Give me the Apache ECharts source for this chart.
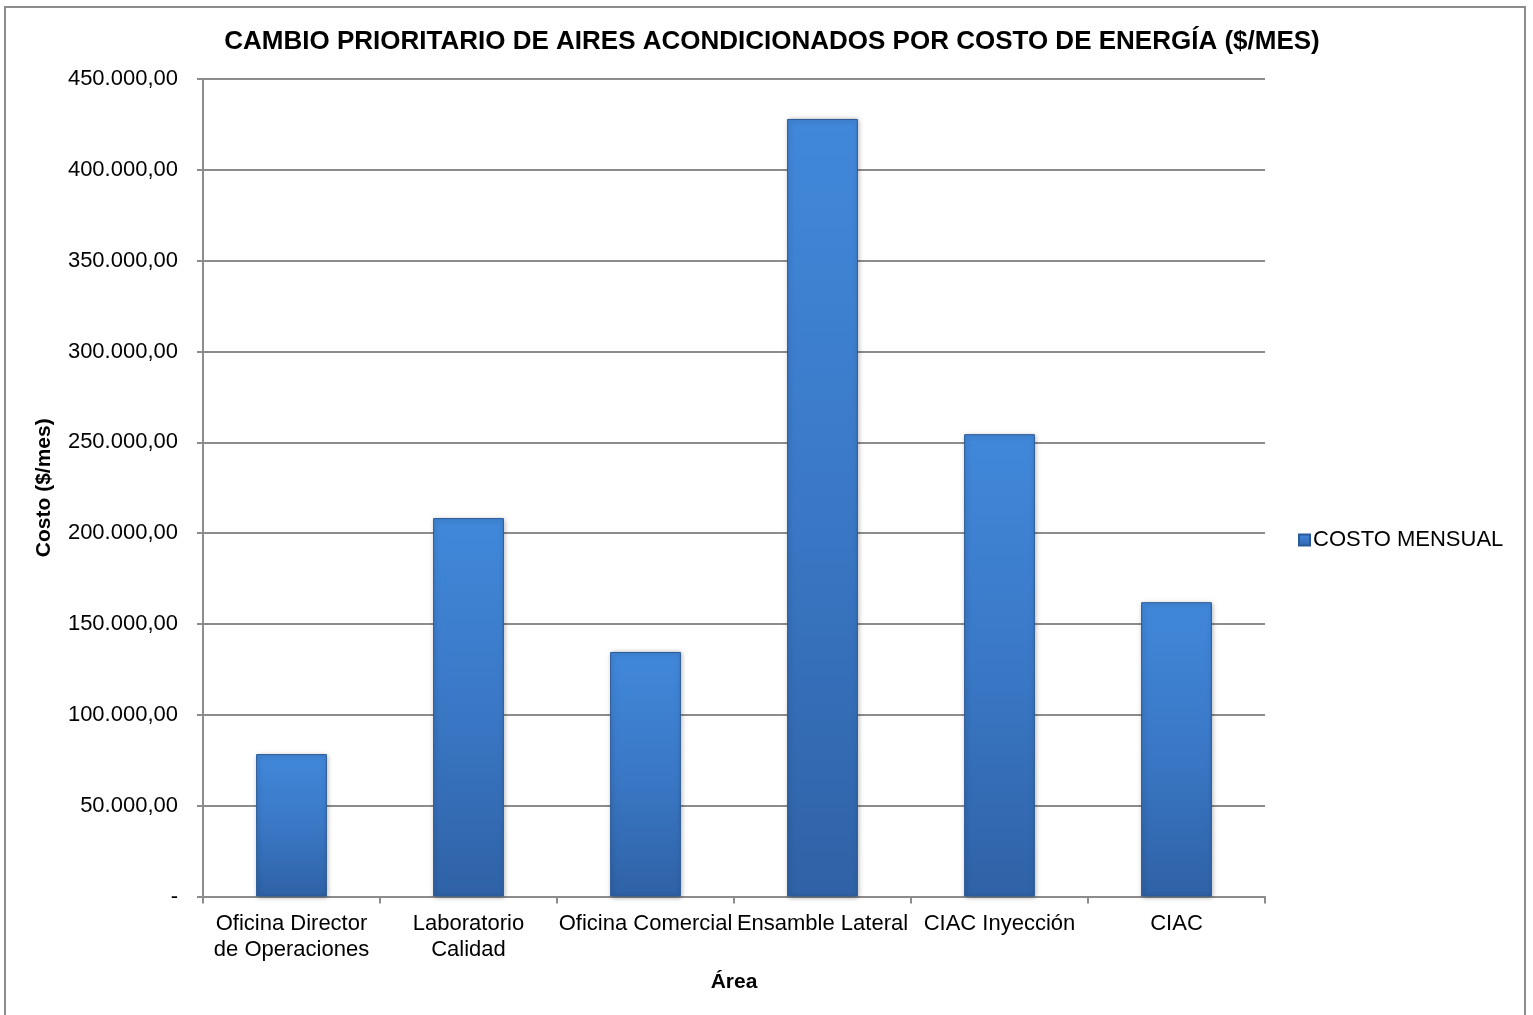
<!DOCTYPE html>
<html><head><meta charset="utf-8">
<script src="https://cdn.jsdelivr.net/npm/echarts@6/dist/echarts.min.js"></script>
<style>html,body{margin:0;padding:0;background:#fff}#c{width:1533px;height:1015px}</style>
</head><body><div id="c"></div>
<script>
const categories = ["Oficina Director\nde Operaciones", "Laboratorio\nCalidad", "Oficina Comercial", "Ensamble Lateral", "CIAC Inyección", "CIAC"];
const costoMensual = [78400, 208300, 134600, 428000, 254500, 162000];
const seriesName = "COSTO MENSUAL";

function fmt(v){
  if (v === 0) return "-";
  const s = Math.round(v).toString().replace(/\B(?=(\d{3})+(?!\d))/g, ".");
  return s + ",00";
}
const chart = echarts.init(document.getElementById('c'));
const font = "Liberation Sans, Arial, sans-serif";
chart.setOption({
  animation:false,
  textStyle:{fontFamily:font},
  title:{text:"CAMBIO PRIORITARIO DE AIRES ACONDICIONADOS POR COSTO DE ENERGÍA ($/MES)",left:767,textAlign:'center',top:24,
    textStyle:{fontFamily:font,fontSize:26,fontWeight:'bold',color:'#000'}},
  graphic:[{type:'rect',shape:{x:5,y:7,width:1520,height:1020},style:{fill:'none',stroke:'#8c8c8c',lineWidth:2},silent:true}],
  legend:{left:1293,top:524,orient:'vertical',itemWidth:11,itemHeight:11,itemGap:5,
    textStyle:{fontFamily:font,fontSize:22,color:'#000',padding:[0,0,0,-2]},
    data:[{name:seriesName,icon:'rect'}]},
  grid:{left:203,right:268,top:79,bottom:118.5,containLabel:false},
  xAxis:{type:'category',data:categories,name:'Área',nameLocation:'middle',nameGap:75,
    nameTextStyle:{fontFamily:font,fontSize:21,fontWeight:'bold',color:'#000'},
    axisLine:{lineStyle:{color:'#8c8c8c',width:2}},
    axisTick:{show:true,alignWithLabel:false,length:7,lineStyle:{color:'#8c8c8c',width:2}},
    axisLabel:{interval:0,margin:14,fontFamily:font,fontSize:22,color:'#000',lineHeight:26}},
  yAxis:{type:'value',min:0,max:450000,interval:50000,name:'Costo ($/mes)',nameLocation:'middle',nameGap:148,
    nameTextStyle:{fontFamily:font,fontSize:21,fontWeight:'bold',color:'#000'},
    axisLine:{show:true,lineStyle:{color:'#8c8c8c',width:2}},
    axisTick:{show:true,length:6,lineStyle:{color:'#8c8c8c',width:2}},
    splitLine:{lineStyle:{color:'#8c8c8c',width:2}},
    axisLabel:{margin:25,fontFamily:font,fontSize:22,color:'#000',formatter:fmt}},
  series:[{name:seriesName,type:'bar',data:costoMensual,barCategoryGap:'60%',
    itemStyle:{
      color:new echarts.graphic.LinearGradient(0,0,0,1,[{offset:0,color:'#4188da'},{offset:0.5,color:'#3a78c6'},{offset:1,color:'#2f62a6'}]),
      borderColor:'#2b5a98',borderWidth:1,
      shadowColor:'rgba(0,0,0,0.35)',shadowBlur:5,shadowOffsetX:1,shadowOffsetY:1}}]
});
</script></body></html>
